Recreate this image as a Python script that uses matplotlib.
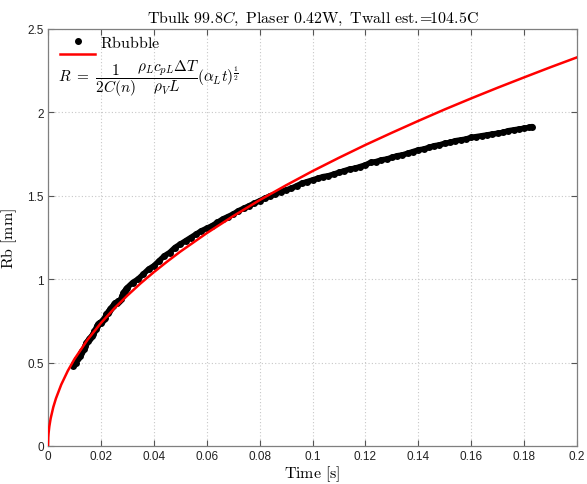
import matplotlib
matplotlib.use("Agg")
import matplotlib.pyplot as plt
from matplotlib.lines import Line2D

# ---- data ----
t_bubble = [0.0095, 0.0100, 0.0105, 0.0110, 0.0115, 0.0120, 0.0125, 0.0130, 0.0135, 0.0140,
            0.0145, 0.0150, 0.0155, 0.0160, 0.0165, 0.0170, 0.0175, 0.0180, 0.0185, 0.0190,
            0.0195, 0.0200, 0.0205, 0.0210, 0.0215, 0.0220, 0.0225, 0.0230, 0.0235, 0.0240,
            0.0245, 0.0250, 0.0255, 0.0260, 0.0265, 0.0270, 0.0275, 0.0280, 0.0285, 0.0290,
            0.0295,
            0.030, 0.032, 0.034, 0.036, 0.038, 0.040, 0.042, 0.044, 0.046, 0.048,
            0.050, 0.052, 0.054, 0.056, 0.058, 0.060, 0.062, 0.064, 0.066, 0.068,
            0.070, 0.072, 0.074, 0.076, 0.078, 0.080, 0.082, 0.084, 0.086, 0.088,
            0.090, 0.092, 0.094, 0.096, 0.098, 0.100, 0.102, 0.104, 0.106, 0.108,
            0.110, 0.112, 0.114, 0.116, 0.118, 0.120, 0.122, 0.124, 0.126, 0.128,
            0.130, 0.132, 0.134, 0.136, 0.138, 0.140, 0.142, 0.144, 0.146, 0.148,
            0.150, 0.152, 0.154, 0.156, 0.158, 0.160, 0.162, 0.164, 0.166, 0.168,
            0.170, 0.172, 0.174, 0.176, 0.178, 0.180, 0.182, 0.183]
r_bubble = [0.48, 0.49, 0.50, 0.52, 0.53, 0.54, 0.56, 0.57, 0.58, 0.60,
            0.62, 0.63, 0.64, 0.65, 0.66, 0.67, 0.69, 0.70, 0.72, 0.73,
            0.74, 0.74, 0.75, 0.76, 0.77, 0.79, 0.80, 0.81, 0.82, 0.83,
            0.84, 0.85, 0.86, 0.86, 0.87, 0.87, 0.88, 0.90, 0.92, 0.93,
            0.94,
            0.95, 0.98, 1.00, 1.03, 1.06, 1.08, 1.11, 1.14, 1.16, 1.19,
            1.21, 1.23, 1.25, 1.27, 1.29, 1.305, 1.32, 1.34, 1.36, 1.375,
            1.39, 1.41, 1.425, 1.44, 1.455, 1.47, 1.485, 1.50, 1.51, 1.525,
            1.535, 1.545, 1.56, 1.575, 1.585, 1.595, 1.605, 1.615, 1.62, 1.63,
            1.64, 1.65, 1.66, 1.665, 1.675, 1.685, 1.70, 1.705, 1.715, 1.72,
            1.73, 1.74, 1.745, 1.755, 1.765, 1.775, 1.78, 1.79, 1.80, 1.805,
            1.815, 1.82, 1.83, 1.835, 1.84, 1.85, 1.855, 1.86, 1.865, 1.87,
            1.875, 1.88, 1.89, 1.895, 1.90, 1.905, 1.91, 1.915]

t_model = [0.0, 0.0001, 0.0002, 0.0005, 0.001, 0.002, 0.003, 0.005, 0.0075, 0.01,
           0.015, 0.02, 0.025, 0.03, 0.035, 0.04, 0.045, 0.05, 0.06, 0.07,
           0.08, 0.09, 0.10, 0.11, 0.12, 0.13, 0.14, 0.15, 0.16, 0.17,
           0.18, 0.19, 0.20]
r_model = [0.0, 0.052, 0.074, 0.117, 0.165, 0.233, 0.285, 0.368, 0.451, 0.521,
           0.638, 0.737, 0.824, 0.902, 0.975, 1.042, 1.105, 1.165, 1.276, 1.378,
           1.474, 1.563, 1.648, 1.728, 1.805, 1.878, 1.949, 2.018, 2.084, 2.148,
           2.210, 2.271, 2.330]

x_ticks = [0, 0.02, 0.04, 0.06, 0.08, 0.1, 0.12, 0.14, 0.16, 0.18, 0.2]
x_ticklabels = ["0", "0.02", "0.04", "0.06", "0.08", "0.1", "0.12", "0.14", "0.16", "0.18", "0.2"]
y_ticks = [0, 0.5, 1, 1.5, 2, 2.5]
y_ticklabels = ["0", "0.5", "1", "1.5", "2", "2.5"]

title_text = r"$\mathrm{Tbulk\ 99.8}C\mathrm{,\ Plaser\ 0.42W,\ Twall\ est.}\!\!=\!\!\mathrm{104.5C}$"
label_bubble = r"$\mathrm{Rbubble}$"
label_model = (r"$R\ =\ \dfrac{1}{2C(n)}\dfrac{\rho_L c_{pL}\Delta T}{\rho_V L}"
               r"(\alpha_L t)^{\frac{1}{2}}$")

plt.rcParams["mathtext.fontset"] = "cm"
plt.rcParams["font.family"] = ["Liberation Sans", "DejaVu Sans"]

W, H = 587, 485
fig = plt.figure(figsize=(W / 100, H / 100), dpi=100)
x0, x1, y0, y1 = 48, 577, 447, 30
ax = fig.add_axes([x0 / W, 1 - y0 / H, (x1 - x0) / W, (y0 - y1) / H])


def ax_pos(px, py):
    return (px - x0) / (x1 - x0), (y0 - py) / (y0 - y1)


# the dense samples merge into a band in the reference
ax.plot(t_bubble, r_bubble, color="black", linewidth=4.0, solid_capstyle="round",
        zorder=2)
ax.plot(t_bubble, r_bubble, linestyle="none", marker="o", color="black",
        markersize=5.0, markeredgewidth=0, zorder=2)
ax.plot(t_model, r_model, color="red", linewidth=1.8, zorder=3)

ax.set_xlim(0, 0.2)
ax.set_ylim(0, 2.5)
ax.set_xticks(x_ticks)
ax.set_xticklabels(x_ticklabels)
ax.set_yticks(y_ticks)
ax.set_yticklabels(y_ticklabels)
ax.tick_params(direction="in", top=True, right=True, labelsize=8.5, length=4,
               color="#555555", labelcolor="#222222", pad=3)
for s in ax.spines.values():
    s.set_color("#7f7f7f")
    s.set_linewidth(0.9)
ax.grid(True, linestyle=(0, (1, 2)), color="#c8c8c8", linewidth=0.8)

ax.set_xlabel(r"$\mathrm{Time\ [s]}$", fontsize=11.5, labelpad=1)
ax.set_ylabel(r"$\mathrm{Rb\ [mm]}$", fontsize=11.5, labelpad=6)
ax.set_title(title_text, fontsize=11.5, pad=5)

# legend (MATLAB layout: handle column, formula wrapped below the red line)
h1 = Line2D([], [], linestyle="none", marker="o", color="black", markersize=4.0)
h2 = Line2D([], [], color="red", linewidth=1.8)
leg = ax.legend([h1, h2], [label_bubble, " "], loc="upper left",
                bbox_to_anchor=ax_pos(60, 35), frameon=False, fontsize=11.5,
                handlelength=2.2, borderaxespad=0.0, borderpad=0.0,
                handletextpad=0.3, labelspacing=-0.15)
fx, fy = ax_pos(58, 79)
ax.text(fx, fy, label_model, transform=ax.transAxes, fontsize=11,
        ha="left", va="center")

fig.savefig("out.png", dpi=100)
